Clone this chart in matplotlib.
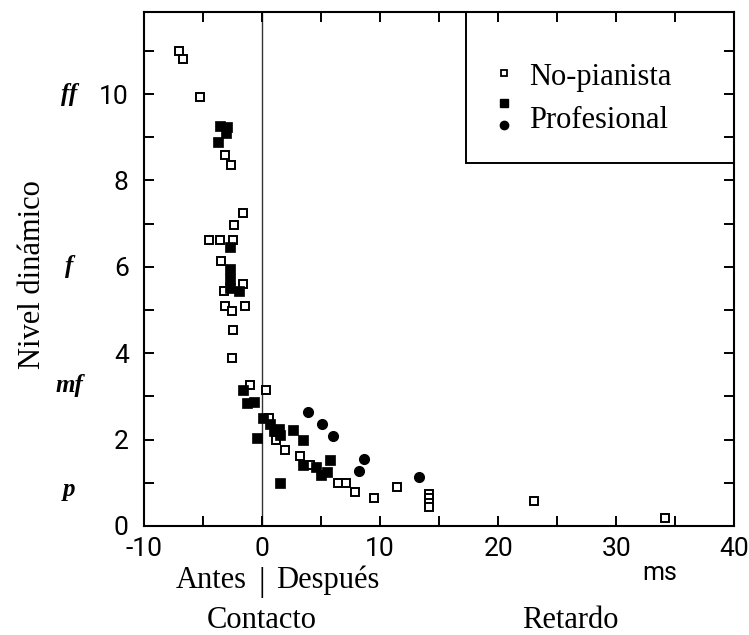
import matplotlib
matplotlib.use("Agg")
import matplotlib.pyplot as plt
from matplotlib.ticker import MultipleLocator
from matplotlib.patches import Rectangle

plt.rcParams["axes.unicode_minus"] = False

# ---------------- data ----------------
# No-pianista (open squares)
x_nopianista = [-7.0, -6.7, -5.3, -3.1, -2.6, -1.6, -2.35, -4.5, -3.6, -2.45,
                -3.5, -1.6, -3.2, -3.1, -2.55, -1.45, -2.5, -2.55, -1.0, 0.35,
                0.6, 1.2, 1.9, 3.2, 4.05, 6.4, 7.1, 7.9, 9.5, 11.4,
                14.1, 14.1, 14.1, 14.1, 23.0, 34.1]
y_nopianista = [11.0, 10.82, 9.94, 8.58, 8.37, 7.25, 6.97, 6.62, 6.62, 6.62,
                6.14, 5.6, 5.43, 5.1, 4.97, 5.09, 4.53, 3.9, 3.26, 3.15,
                2.5, 1.99, 1.77, 1.61, 1.41, 1.0, 1.0, 0.78, 0.65, 0.91,
                0.75, 0.64, 0.54, 0.45, 0.58, 0.18]

# Profesional (filled squares)
x_prof_sq = [-3.6, -3.0, -3.05, -3.75, -2.75, -2.7, -2.7, -2.7, -1.95, -1.65,
             -1.25, -0.65, 0.05, 0.7, 1.0, 1.4, 1.5, -0.45, 2.6, 3.45,
             5.75, 3.45, 4.6, 5.0, 5.5, 1.55]
y_prof_sq = [9.27, 9.25, 9.1, 8.89, 6.45, 5.96, 5.73, 5.5, 5.43, 3.15,
             2.85, 2.88, 2.49, 2.35, 2.2, 2.25, 2.1, 2.03, 2.22, 1.98,
             1.52, 1.41, 1.36, 1.19, 1.25, 1.0]

# Profesional (filled circles)
x_prof_ci = [3.9, 5.1, 6.0, 8.6, 8.25, 13.3]
y_prof_ci = [2.63, 2.35, 2.08, 1.54, 1.28, 1.14]

x_ticks_major = [-10, 0, 10, 20, 30, 40]
y_ticks_major = [0, 2, 4, 6, 8, 10]
dyn_labels = ["ff", "f", "mf", "p"]
dyn_levels = [10.0, 6.0, 3.25, 0.85]

legend_labels = ["No-pianista", "Profesional"]

# ---------------- figure ----------------
fig = plt.figure(figsize=(7.49, 6.35), dpi=100)
ax = fig.add_axes([0.1923, 0.1717, 0.788, 0.8093])

serif = "Liberation Serif"
tickfont = ["Roboto", "DejaVu Sans"]
SZ = 22

ax.axvline(0, color="#333333", lw=1.0, zorder=1)

ax.plot(x_nopianista, y_nopianista, ls="none", marker="s", ms=5.8,
        mfc="white", mec="black", mew=1.4, zorder=3)
ax.plot(x_prof_sq, y_prof_sq, ls="none", marker="s", ms=6.8,
        mfc="black", mec="black", mew=0.5, zorder=4)
ax.plot(x_prof_ci, y_prof_ci, ls="none", marker="o", ms=7.0,
        mfc="black", mec="black", zorder=4)

ax.set_xlim(-10, 40)
ax.set_ylim(0, 11.9)

ax.set_xticks(x_ticks_major)
ax.set_yticks(y_ticks_major)
ax.xaxis.set_minor_locator(MultipleLocator(5))
ax.yaxis.set_minor_locator(MultipleLocator(1))
for which in ("major", "minor"):
    ax.tick_params(axis="both", which=which, direction="in", length=7.5,
                   width=1.4, top=True, right=True, color="black")
ax.tick_params(axis="y", which="major", pad=11)
ax.tick_params(axis="x", which="major", pad=8)
for lab in ax.get_xticklabels() + ax.get_yticklabels():
    lab.set_family(tickfont)
    lab.set_fontsize(19)

for s in ax.spines.values():
    s.set_linewidth(1.5)

# y label
ax.set_ylabel("Nivel dinámico", family=serif, fontsize=SZ)
ax.yaxis.set_label_coords(-0.165, 0.49)

# dynamic marks
for lab, lev in zip(dyn_labels, dyn_levels):
    ax.text(-0.127, lev, lab, transform=ax.get_yaxis_transform(),
            ha="center", va="center", family=serif, style="italic",
            weight="bold", fontsize=18)

# legend box
ax.add_patch(Rectangle((0.546, 0.706), 0.454, 0.294, transform=ax.transAxes,
                       fill=False, lw=1.4, ec="black", zorder=5))
ax.plot([0.61], [0.881], transform=ax.transAxes, marker="s", ms=5.0,
        mfc="white", mec="black", mew=1.3, ls="none", clip_on=False)
ax.plot([0.61], [0.823], transform=ax.transAxes, marker="s", ms=6.0,
        mfc="black", mec="black", ls="none", clip_on=False)
ax.plot([0.61], [0.780], transform=ax.transAxes, marker="o", ms=6.0,
        mfc="black", mec="black", ls="none", clip_on=False)
ax.text(0.653, 0.872, legend_labels[0], transform=ax.transAxes,
        ha="left", va="center", family=serif, fontsize=SZ)
ax.text(0.653, 0.789, legend_labels[1], transform=ax.transAxes,
        ha="left", va="center", family=serif, fontsize=SZ)

# bottom annotations
fig.text(247 / 749, 1 - 580 / 635, "Antes", family=serif, fontsize=SZ,
         ha="right", va="center")
fig.text(262 / 749, 1 - 582 / 635, "|", family=serif, fontsize=24,
         ha="center", va="center")
fig.text(276 / 749, 1 - 580 / 635, "Después", family=serif, fontsize=SZ,
         ha="left", va="center")
fig.text(262 / 749, 1 - 620 / 635, "Contacto", family=serif, fontsize=SZ,
         ha="center", va="center")
fig.text(570 / 749, 1 - 620 / 635, "Retardo", family=serif, fontsize=SZ,
         ha="center", va="center")
fig.text(660 / 749, 1 - 573 / 635, "ms", family=tickfont, fontsize=18,
         ha="center", va="center")

fig.savefig("out.png", dpi=100)
